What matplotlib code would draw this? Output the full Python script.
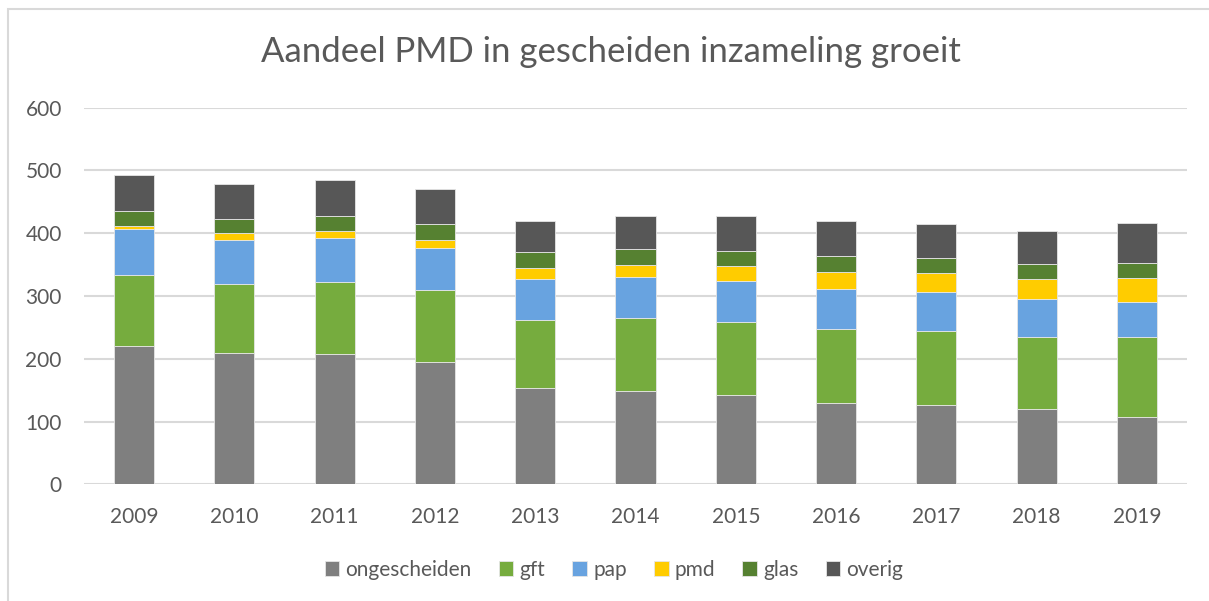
import numpy as np
import matplotlib
matplotlib.use('Agg')
import matplotlib.pyplot as plt
from matplotlib.patches import Rectangle

plt.rcParams['font.family'] = ['Lato', 'DejaVu Sans']

years = ['2009', '2010', '2011', '2012', '2013', '2014', '2015', '2016', '2017', '2018', '2019']
ongescheiden = [220, 209, 207, 195, 153, 148, 142, 130, 126, 120, 107]
gft = [113, 110, 115, 114, 108, 117, 116, 118, 118, 114, 127]
pap = [73, 70, 70, 67, 66, 65, 66, 63, 62, 61, 57]
pmd = [5, 11, 12, 13, 17, 19, 23, 28, 30, 32, 37]
glas = [24, 23, 24, 25, 26, 26, 25, 24, 24, 24, 24]
overig = [58, 56, 57, 56, 50, 53, 55, 57, 54, 52, 64]

series = [('ongescheiden', ongescheiden, '#7F7F7F'),
          ('gft', gft, '#76AC3E'),
          ('pap', pap, '#68A3E0'),
          ('pmd', pmd, '#FFCC00'),
          ('glas', glas, '#568131'),
          ('overig', overig, '#575757')]

W, H = 1209, 601
fig = plt.figure(figsize=(W / 100, H / 100), dpi=100)
ax = fig.add_axes([84 / W, (H - 484.3) / H, (1187 - 84) / W, (484.3 - 107.7) / H])

# chart border (left and top visible)
fig.add_artist(Rectangle((7.5 / W, -0.1), 1.2, (H - 9) / H + 0.1, transform=fig.transFigure,
                         fill=False, edgecolor='#D9D9D9', lw=1.5))

x = np.arange(len(years))
bottom = np.zeros(len(years))
for name, vals, col in series:
    ax.bar(x, vals, width=0.4, bottom=bottom, color=col, label=name,
           edgecolor='#E6E6E6', linewidth=0.6, zorder=3)
    bottom += np.array(vals)

ax.set_xlim(-0.5, len(years) - 0.5)
ax.set_ylim(0, 600)
ax.set_yticks(range(0, 601, 100))
ax.set_xticks(x)
ax.set_xticklabels(years)
ax.grid(axis='y', color='#D9D9D9', lw=1.5, zorder=0)
for s in ax.spines.values():
    s.set_visible(False)
ax.tick_params(length=0, labelsize=15, colors='#595959')
ax.tick_params(axis='x', pad=16)
ax.tick_params(axis='y', pad=16)

fig.text(611 / W, 1 - 52 / H, 'Aandeel PMD in gescheiden inzameling groeit',
         ha='center', va='center', fontsize=25, color='#595959')

ax.legend(loc='center', bbox_to_anchor=(614 / W, 1 - 570 / H), bbox_transform=fig.transFigure,
          ncol=6, frameon=False, fontsize=15, labelcolor='#595959',
          handlelength=0.7, handleheight=0.7, handletextpad=0.3, columnspacing=1.3)

fig.savefig('out.png', dpi=100)
